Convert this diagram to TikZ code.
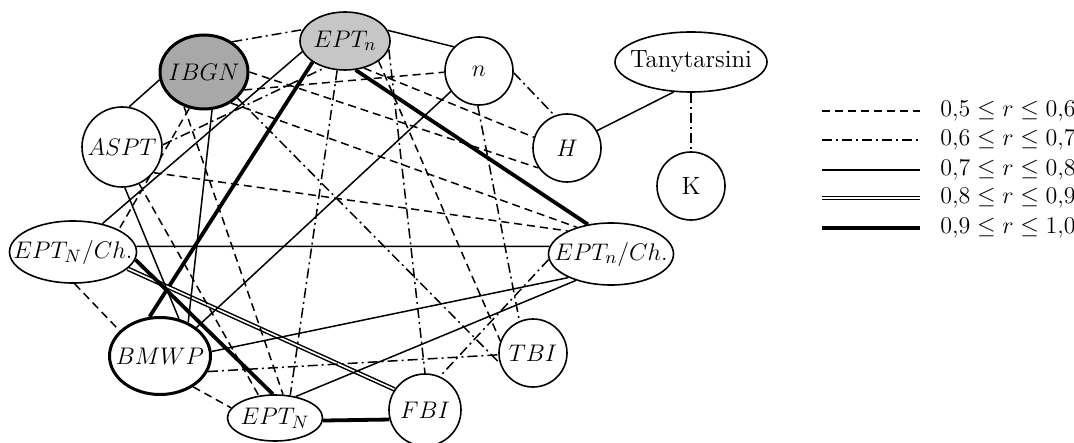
\documentclass[tikz,border=0pt]{standalone}
\usetikzlibrary{shapes.geometric}
\pgfdeclarelayer{bg}
\pgfsetlayers{bg,main}
\definecolor{dgray}{RGB}{168,168,168}
\definecolor{lgray}{RGB}{198,198,198}
\begin{document}
\begin{tikzpicture}[x=0.5pt,y=-0.5pt,
  nd/.style={draw, line width=0.8pt, fill=white, font=\fontsize{12.5}{14}\selectfont},
  el/.style={nd, ellipse, inner xsep=-10pt, inner ysep=-4pt},
  ci/.style={nd, circle, inner sep=0pt},
  rdash/.style={line width=0.75pt, dash pattern=on 4pt off 2.5pt},
  rdd/.style={line width=0.75pt, dash pattern=on 5pt off 2pt on 1pt off 2pt},
  rsolid/.style={line width=0.75pt},
  rdouble/.style={double, line width=0.75pt, double distance=0.8pt},
  rthick/.style={line width=1.9pt},
  legtext/.style={anchor=west, inner sep=0pt, font=\fontsize{12.5}{14}\selectfont}]
\useasboundingbox (0,0) rectangle (1074,443);

% nodes
\node[el, fill=dgray, line width=1.5pt, minimum width=44pt, minimum height=37pt] (IBGN) at (204,72) {$IBGN$};
\node[el, fill=lgray, minimum width=45pt, minimum height=29pt] (EPTn) at (345,41) {$EPT_n$};
\node[ci, minimum size=34pt] (n) at (479,71) {$n$};
\node[ci, minimum size=34pt] (H) at (567,148) {$H$};
\node[el, minimum width=76pt, minimum height=30pt] (Tany) at (691,62) {Tanytarsini};
\node[ci, minimum size=34pt] (K) at (691,186) {K};
\node[ci, minimum size=40pt] (ASPT) at (122,147) {$ASPT$};
\node[el, minimum width=63.5pt, minimum height=31pt] (EPTNCh) at (73,252) {$EPT_N/Ch.$};
\node[el, minimum width=62.5pt, minimum height=31pt] (EPTnCh) at (611,254) {$EPT_n/Ch.$};
\node[el, line width=1.5pt, minimum width=50.5pt, minimum height=38.5pt] (BMWP) at (160,356) {$BMWP$};
\node[el, minimum width=47.5pt, minimum height=23pt] (EPTN) at (275,418) {$EPT_N$};
\node[ci, minimum size=36pt] (FBI) at (425,410) {$FBI$};
\node[ci, minimum size=34pt] (TBI) at (533,353) {$TBI$};

% connectors
\begin{pgfonlayer}{bg}
\draw[rdd] (IBGN.47) -- (EPTn.165);
\draw[rsolid] (IBGN.190) -- (ASPT.80);
\draw[rsolid] (EPTn.14) -- (n.136);
\draw[rdd] (n.-3) -- (H.111);
\draw[rsolid] (H.30) -- (Tany.-120);
\draw[rdd] (Tany.south) -- (K.north);
\draw[rthick] (EPTn.-70) -- (EPTnCh.128);
\draw[rthick] (EPTn.213) -- (BMWP.105);
\draw[rsolid] (EPTNCh.5) -- (EPTnCh.173);
\draw[rdouble] (EPTNCh.-17) -- (FBI.146);
\draw[rthick] (EPTNCh.-7) -- (EPTN.95);
\draw[rdash] (EPTNCh.-87) -- (BMWP.148);
\draw[rdash] (BMWP.-43) -- (EPTN.167);
\draw[rthick] (EPTN.-3) -- (FBI.195);
\draw[rsolid] (BMWP.5) -- (EPTnCh.209);
\draw[rdd] (BMWP.-18) -- (TBI.183);
\draw[rsolid] (EPTN.46) -- (EPTnCh.217);
\draw[rdd] (EPTnCh.185) -- (FBI.66);
\draw[rdd] (n.-92) -- (TBI.113);
\draw[rdd] (EPTn.-11) -- (FBI.90);
\draw[rdash] (EPTn.-31) -- (TBI.160);
\draw[rdd] (IBGN.-38) -- (TBI.197);
\draw[rdash] (IBGN.-24) -- (n.182);
\draw[rdash] (IBGN.0) -- (H.215);
\draw[rdash] (EPTn.-55) -- (H.162);
\draw[rdash] (IBGN.-49) -- (EPTnCh.142);
\draw[rdash] (ASPT.-39) -- (EPTnCh.152);
\draw[rdd] (ASPT.3) -- (EPTn.233);
\draw[rsolid] (ASPT.-86) -- (BMWP.63);
\draw[rdash] (ASPT.-65) -- (EPTN.126);
\draw[rsolid] (IBGN.-78) -- (BMWP.50);
\draw[rsolid] (n.216) -- (BMWP.38);
\draw[rdash] (IBGN.248) -- (EPTNCh.26);
\draw[rdash] (IBGN.240) -- (EPTN.71);
\draw[rdd] (EPTn.255) -- (EPTN.56);
\draw[rsolid] (EPTn.194) -- (EPTNCh.44);
\end{pgfonlayer}

% legend
\coordinate (l1a) at (822,111); \coordinate (l1b) at (920,111);
\coordinate (l2a) at (822,140); \coordinate (l2b) at (920,140);
\coordinate (l3a) at (822,170); \coordinate (l3b) at (920,170);
\coordinate (l4a) at (822,198); \coordinate (l4b) at (920,198);
\coordinate (l5a) at (822,228); \coordinate (l5b) at (920,228);
\draw[rdash] (l1a) -- (l1b);
\draw[rdd] (l2a) -- (l2b);
\draw[rsolid] (l3a) -- (l3b);
\draw[rdouble] (l4a) -- (l4b);
\draw[rthick] (l5a) -- (l5b);
\node[legtext] (t1) at (940,111) {$0{,}5\le r\le 0{,}6$};
\node[legtext] (t2) at (940,140) {$0{,}6\le r\le 0{,}7$};
\node[legtext] (t3) at (940,170) {$0{,}7\le r\le 0{,}8$};
\node[legtext] (t4) at (940,198) {$0{,}8\le r\le 0{,}9$};
\node[legtext] (t5) at (940,228) {$0{,}9\le r\le 1{,}0$};
\end{tikzpicture}
\end{document}
